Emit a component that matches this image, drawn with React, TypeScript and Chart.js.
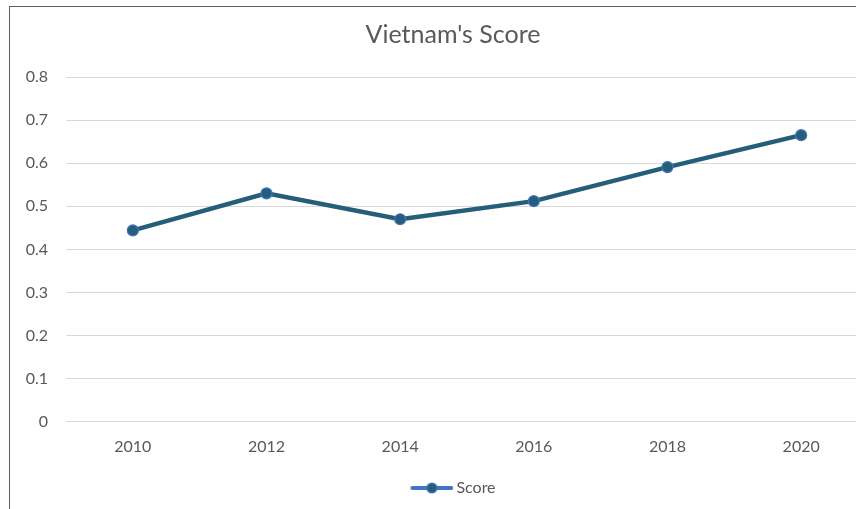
import React, { useEffect, useRef } from "react";
import { Chart, registerables } from "chart.js";

Chart.register(...registerables);

const categories = ["2010", "2012", "2014", "2016", "2018", "2020"];
const scoreValues = [0.444, 0.53, 0.47, 0.512, 0.591, 0.665];
const seriesLabel = "Score";
const chartTitle = "Vietnam's Score";

const LINE_COLOR = "#255E79";
const POINT_BORDER = "#4472C4";
const TEXT_COLOR = "#595959";
const FONT = "Lato";

function makeLegendImage(): HTMLCanvasElement {
  const c = document.createElement("canvas");
  c.width = 48;
  c.height = 12;
  const ctx = c.getContext("2d")!;
  ctx.strokeStyle = POINT_BORDER;
  ctx.lineWidth = 4;
  ctx.lineCap = "round";
  ctx.beginPath();
  ctx.moveTo(7, 6);
  ctx.lineTo(46, 6);
  ctx.stroke();
  ctx.beginPath();
  ctx.arc(26.5, 6, 5, 0, Math.PI * 2);
  ctx.fillStyle = LINE_COLOR;
  ctx.fill();
  ctx.lineWidth = 1.2;
  ctx.strokeStyle = POINT_BORDER;
  ctx.stroke();
  return c;
}

export default function App() {
  const ref = useRef<HTMLCanvasElement | null>(null);
  useEffect(() => {
    if (!ref.current) return;
    const legendImg = makeLegendImage();
    const chart = new Chart(ref.current, {
      type: "line",
      data: {
        labels: categories,
        datasets: [
          {
            label: seriesLabel,
            data: scoreValues,
            yAxisID: "y",
            borderColor: LINE_COLOR,
            borderWidth: 4.5,
            backgroundColor: LINE_COLOR,
            pointBackgroundColor: LINE_COLOR,
            pointBorderColor: POINT_BORDER,
            pointBorderWidth: 1.2,
            pointRadius: 5.5,
            pointStyle: "circle",
            tension: 0,
          },
        ],
      },
      options: {
        responsive: false,
        animation: false,
        layout: { padding: { left: 0, right: 0, top: 0, bottom: 13 } },
        scales: {
          x: {
            offset: true,
            grid: { display: false, drawTicks: false },
            border: { display: true, color: "#D9D9D9", width: 1 },
            ticks: {
              color: TEXT_COLOR,
              font: { family: FONT, size: 16 },
              padding: 15,
            },
          },
          y: {
            min: 0,
            max: 0.8,
            afterFit: (scale: any) => {
              scale.width = 56;
            },
            grid: { color: "#D9D9D9", lineWidth: 1, drawTicks: false },
            border: { display: false },
            ticks: {
              stepSize: 0.1,
              color: TEXT_COLOR,
              font: { family: FONT, size: 16 },
              padding: 18,
              callback: (v: any) => {
                const n = Math.round(Number(v) * 10) / 10;
                return n === 0 ? "0" : n.toFixed(1);
              },
            },
          },
          yRight: {
            type: "linear",
            position: "right",
            display: true,
            min: 0,
            max: 1,
            afterFit: (scale: any) => {
              scale.width = 28;
            },
            grid: { display: false, drawTicks: false },
            border: { display: false },
            ticks: { display: false },
          },
        },
        plugins: {
          title: {
            display: true,
            text: chartTitle,
            color: TEXT_COLOR,
            font: { family: FONT, size: 25, weight: "normal" as any },
            padding: { top: 13, bottom: 27 },
          },
          legend: {
            display: true,
            position: "bottom",
            labels: {
              usePointStyle: true,
              pointStyleWidth: 38,
              color: TEXT_COLOR,
              font: { family: FONT, size: 16 },
              padding: 9,
              generateLabels: () => [
                {
                  text: seriesLabel,
                  pointStyle: legendImg as any,
                  fillStyle: LINE_COLOR,
                  strokeStyle: POINT_BORDER,
                  lineWidth: 0,
                  fontColor: TEXT_COLOR,
                  hidden: false,
                  datasetIndex: 0,
                } as any,
              ],
            },
          },
          tooltip: { enabled: false },
        },
      },
    });
    return () => chart.destroy();
  }, []);

  return (
    <div
      style={{
        position: "fixed",
        left: 0,
        top: 0,
        width: 856,
        height: 509,
        overflow: "hidden",
        background: "#ffffff",
      }}
    >
      <div
        style={{
          position: "absolute",
          left: 9,
          top: 6,
          width: 886,
          height: 512,
          borderLeft: "1px solid #5f5f5f",
          borderTop: "1px solid #5f5f5f",
        }}
      >
        <canvas ref={ref} width={886} height={512} style={{ display: "block" }} />
      </div>
    </div>
  );
}
